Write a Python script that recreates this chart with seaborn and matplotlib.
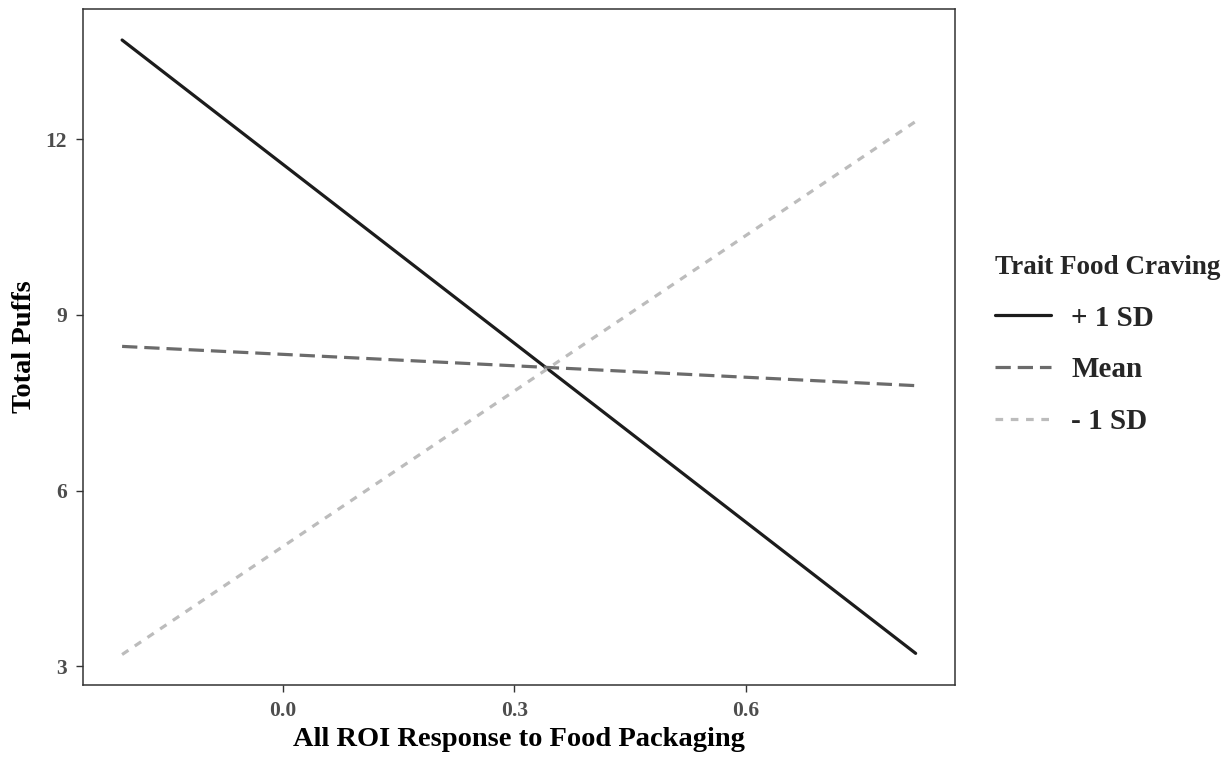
import matplotlib
matplotlib.use("Agg")
import matplotlib.pyplot as plt
import seaborn as sns
import pandas as pd

# ---- data ----
x_values = [-0.208, 0.820]
plus_1sd = [13.69, 3.22]
mean_line = [8.46, 7.79]
minus_1sd = [3.20, 12.30]
groups = ["+ 1 SD", "Mean", "- 1 SD"]
x_ticks = [0.0, 0.3, 0.6]
y_ticks = [3, 6, 9, 12]

rows = []
for g, ys in zip(groups, [plus_1sd, mean_line, minus_1sd]):
    for xv, yv in zip(x_values, ys):
        rows.append({"x": xv, "y": yv, "group": g})
df = pd.DataFrame(rows)

sns.set_theme(style="white")
plt.rcParams["font.family"] = ["Liberation Serif", "DejaVu Serif"]
plt.rcParams["font.weight"] = "bold"
plt.rcParams["lines.scale_dashes"] = False

fig = plt.figure(figsize=(12.31, 7.60), dpi=100)
ax = fig.add_axes([0.0672, 0.0987, 0.7086, 0.8895])

palette = {"+ 1 SD": "#1c1c1c", "Mean": "#6b6b6b", "- 1 SD": "#bcbcbc"}
dashes = {"+ 1 SD": "", "Mean": (11.0, 5.0), "- 1 SD": (5.5, 5.5)}

sns.lineplot(data=df, x="x", y="y", hue="group", style="group",
             hue_order=groups, style_order=groups,
             palette=palette, dashes=dashes, linewidth=2.3,
             ax=ax, legend=True)

ax.set_xlim(-0.259, 0.871)
ax.set_ylim(2.68, 14.22)
ax.set_xticks(x_ticks)
ax.set_xticklabels([f"{t:.1f}" for t in x_ticks])
ax.set_yticks(y_ticks)
ax.set_yticklabels([str(t) for t in y_ticks])

for s in ax.spines.values():
    s.set_visible(True)
    s.set_color("#333333")
    s.set_linewidth(1.1)

ax.tick_params(axis="both", which="major", length=5, width=1.0,
               color="#333333", labelcolor="#4d4d4d", labelsize=15.5,
               pad=6.5, direction="out", bottom=True, left=True)
for lab in ax.get_xticklabels() + ax.get_yticklabels():
    lab.set_fontweight("bold")

ax.set_xlabel("All ROI Response to Food Packaging", fontsize=20.5,
              fontweight="bold", color="black", labelpad=4)
ax.set_ylabel("Total Puffs", fontsize=20.5, fontweight="bold",
              color="black", labelpad=6)
ax.grid(False)

handles, labels = ax.get_legend_handles_labels()
if ax.legend_:
    ax.legend_.remove()
leg = fig.legend(handles, labels, title="Trait Food Craving",
                 loc="center left", bbox_to_anchor=(0.799, 0.546),
                 frameon=False, fontsize=21, title_fontsize=19.5,
                 handlelength=1.9, handletextpad=0.7, labelspacing=0.85,
                 alignment="left", borderaxespad=0)
leg.get_title().set_fontweight("bold")
for t in leg.get_texts():
    t.set_fontweight("bold")

fig.savefig("out.png", dpi=100, facecolor="white")
